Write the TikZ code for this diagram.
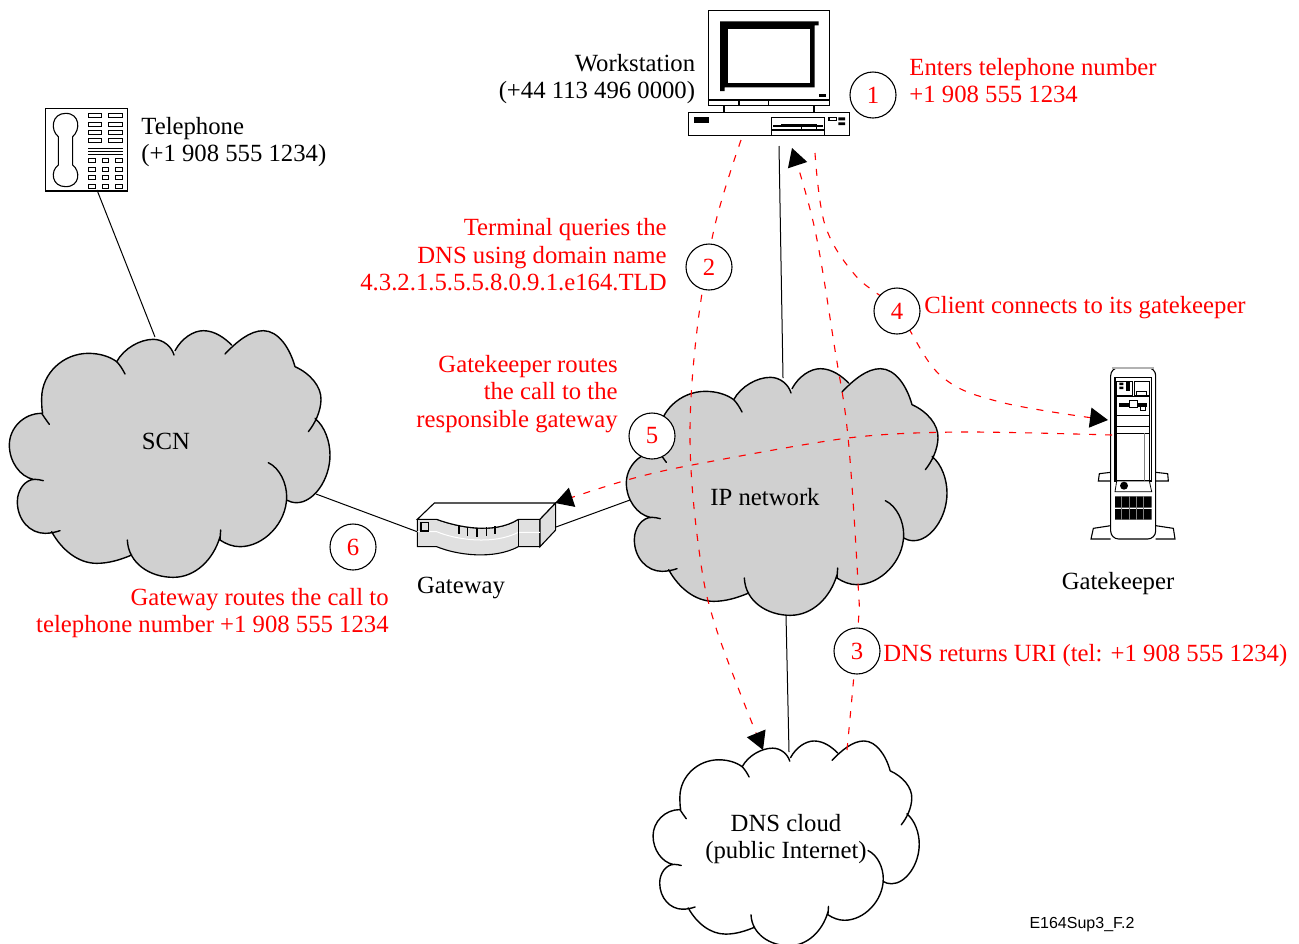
\documentclass[tikz,border=0pt]{standalone}
\usepackage{fontspec}
\setmainfont{Liberation Serif}
\newfontfamily\arialfont{Liberation Sans}
\usetikzlibrary{arrows.meta}
\definecolor{cloudgray}{RGB}{208,208,208}
\definecolor{boxgray}{RGB}{224,224,224}
\tikzset{
  txt/.style={inner sep=0pt,font=\fontsize{12.36}{13.75}\selectfont},
  redtxt/.style={txt,text=red},
  stepcircle/.style={circle,draw=black,fill=white,line width=0.55pt,minimum size=23pt,inner sep=0pt,text=red,font=\fontsize{12.36}{13.75}\selectfont},
  link/.style={line width=0.5pt,black},
  reddash/.style={red,line width=0.55pt,dash pattern=on 3.5pt off 4.5pt},
  redtip/.style={-{Triangle[length=9pt,width=10pt,black]}},
  thing/.style={line width=0.55pt,black},
  cloudline/.style={line width=0.7pt,black,line cap=round},
}
\def\cloudshape#1{%
 (350,125) .. controls (372,85) and (420,58) .. (460,58) .. controls (490,58) and (515,80) .. (522,105)
 #1 (525,92) .. controls (545,55) and (580,32) .. (610,32) .. controls (645,32) and (675,55) .. (695,75)
 #1 (675,102) .. controls (710,65) and (750,32) .. (790,32) .. controls (835,32) and (870,85) .. (885,140)
 #1 (885,140) .. controls (930,160) and (965,200) .. (963,240) .. controls (962,275) and (945,310) .. (925,335)
 #1 (945,295) .. controls (975,320) and (990,365) .. (990,405) .. controls (990,480) and (940,548) .. (890,548) .. controls (878,548) and (868,545) .. (860,540)
 #1 (805,428) .. controls (840,445) and (860,490) .. (860,530) .. controls (860,610) and (790,680) .. (720,680) .. controls (698,680) and (678,672) .. (660,660) -- (662,630)
 #1 (660,650) .. controls (640,720) and (585,772) .. (520,772) .. controls (450,772) and (385,730) .. (382,660)
 #1 (395,705) .. controls (360,720) and (325,730) .. (290,730) .. controls (235,730) and (185,690) .. (155,635)
 #1 (180,632) .. controls (165,637) and (150,640) .. (135,640) .. controls (90,640) and (52,600) .. (52,545) .. controls (52,510) and (75,478) .. (105,478) .. controls (113,478) and (122,480) .. (130,482)
 #1 (100,478) .. controls (60,470) and (28,425) .. (28,375) .. controls (28,325) and (70,280) .. (125,280) .. controls (135,295) and (142,305) .. (148,313)
 #1 (128,280) .. controls (125,270) and (125,245) .. (125,235) .. controls (125,160) and (190,100) .. (265,100) .. controls (300,100) and (330,110) .. (350,125) .. controls (360,135) and (368,148) .. (375,162)}
\def\cloudat#1#2#3#4{%
 \begin{scope}[shift={(#1,#2)},scale=#3]
  \fill[#4] \cloudshape{--} -- cycle;
  \draw[cloudline] \cloudshape{};
 \end{scope}}
\begin{document}
\begin{tikzpicture}[x=0.5pt,y=-0.5pt]
\useasboundingbox (0,0) rectangle (1299,943);
% anchors of connectors
\coordinate (phoneport) at (97,190);
\coordinate (scntop) at (155,337);
\coordinate (wsport) at (779,146);
\coordinate (iptop) at (783,378);
\coordinate (ipbottom) at (786,615);
\coordinate (dnstop) at (789,752);
\coordinate (scnright) at (316,494);
\coordinate (gwleft) at (418,532);
\coordinate (gwright) at (556,527);
\coordinate (ipleft) at (630,500);
\coordinate (wsa) at (741,140);
\coordinate (wsb) at (792,148);
\coordinate (wsc) at (815,153);
\coordinate (dnsa) at (763,750);
\coordinate (dnsb) at (847,750);
\coordinate (gka) at (1108,420);
\coordinate (gkb) at (1112,435);
\coordinate (gwtip) at (555,503);
% black links behind the clouds
\draw[link] (phoneport) -- (scntop);
\draw[link] (wsport) -- (iptop);
\draw[link] (ipbottom) -- (dnstop);
\draw[link] (scnright) -- (gwleft);
\draw[link] (gwright) -- (ipleft);
% clouds
\cloudat{0}{320}{0.33333}{cloudgray}
\cloudat{617}{358}{0.33333}{cloudgray}
\cloudat{645.3}{732.1}{0.2767}{white}
% workstation
\begin{scope}[shift={(670,0)},scale=0.33333,thing]
 \draw (115,32) rectangle (478,316);
 \draw (115,300) -- (478,300) (207,300) -- (207,316) (296,300) -- (296,316);
 \fill (150,64) -- (446,64) -- (446,76) -- (434,76) -- (434,262) -- (164,262) -- (164,273) -- (150,273) -- cycle;
 \fill[white] (175,87) rectangle (420,249);
 \fill (447,282) rectangle (467,290);
 \draw (162,316) -- (162,338) (432,316) -- (432,338);
 \draw (55,338) rectangle (538,407);
 \fill (72,352) rectangle (118,369);
 \draw (304,352) rectangle (463,407);
 \draw (310,378) -- (458,378) (304,390) -- (463,390);
 \fill (333,372) rectangle (440,380);
 \draw[fill=white] (395,378) rectangle (440,388);
 \draw (477,352) rectangle (500,362);
 \fill (505,352) rectangle (525,361) (505,367) rectangle (525,375);
\end{scope}
% telephone
\begin{scope}[shift={(30,95)},scale=0.33333,thing]
 \draw (46,41) rectangle (292,288);
 \draw (85,125) .. controls (60,105) and (65,55) .. (107,55) .. controls (150,55) and (152,105) .. (128,125) -- (128,210) .. controls (152,228) and (150,275) .. (107,275) .. controls (65,275) and (60,228) .. (85,210) -- cycle;
 \begin{scope}[line width=0.4pt]
 \foreach \y in {55,82,107,131} {
  \draw (175,\y) rectangle (215,\y+12);
  \draw (235,\y) rectangle (277,\y+12);
 }
 \draw (175,160) -- (278,160) (175,168) -- (278,168) (175,177) -- (278,177);
 \foreach \y in {190,218,242,267} {
  \draw (175,\y) rectangle (195,\y+12);
  \draw (218,\y) rectangle (235,\y+12);
  \draw (257,\y) rectangle (277,\y+12);
 }
 \end{scope}
\end{scope}
% gateway
\begin{scope}[shift={(400,480)},scale=0.33333,thing]
 \draw[fill=boxgray] (52,118) -- (110,118) .. controls (170,140) and (280,165) .. (355,118) -- (420,118) -- (420,200) -- (355,200) .. controls (280,240) and (170,225) .. (110,200) -- (52,200) -- cycle;
 \draw[fill=white] (52,118) -- (103,69) -- (467,69) -- (420,118) -- (355,118) .. controls (280,165) and (170,140) .. (110,118) -- cycle;
 \draw[fill=boxgray] (420,118) -- (467,69) -- (467,150) -- (420,200) -- cycle;
 \draw[white,line width=0.5pt] (52,155) -- (110,155) .. controls (170,180) and (280,195) .. (355,157) -- (420,157);
 \draw (355,118) -- (355,200);
 \draw (63,128) rectangle (85,153);
 \draw (177,138) -- (177,163) (203,142) -- (203,168) (231,144) -- (231,170) (260,142) -- (260,168) (285,138) -- (285,163);
\end{scope}
% gatekeeper
\begin{scope}[shift={(1080,355)},scale=0.33333,thing]
 \draw[fill=white] (92,352) -- (58,356) -- (55,378) -- (92,378);
 \draw[fill=white] (227,352) -- (263,356) -- (265,378) -- (227,378);
 \draw[fill=white] (92,512) -- (40,520) -- (33,552) -- (92,552);
 \draw[fill=white] (227,512) -- (280,520) -- (285,552) -- (227,552);
 \draw[rounded corners=4pt,fill=white] (92,552) -- (92,38) -- (227,38) -- (227,552) -- cycle;
 \fill[gray!60] (97,36) rectangle (222,43);
 \draw (105,68) rectangle (215,378);
 \begin{scope}[line width=0.4pt]
 \draw (110,80) rectangle (158,120);
 \fill (137,78) rectangle (150,108);
 \fill (118,83) rectangle (130,90) (118,95) rectangle (130,102);
 \draw (163,80) rectangle (208,120);
 \draw (168,108) rectangle (200,120);
 \draw (110,125) rectangle (208,180);
 \fill (118,143) rectangle (200,155);
 \draw[fill=white] (147,135) rectangle (172,157);
 \draw[fill=white] (180,155) rectangle (195,167);
 \draw (110,180) rectangle (208,235);
 \draw (110,215) -- (208,215);
 \draw (110,235) rectangle (208,378);
 \draw[gray] (192,235) -- (192,378);
 \draw[fill=white] (110,378) -- (208,378) -- (215,410) -- (105,410) -- cycle;
 \end{scope}
 \fill (132,392) circle (12);
 \fill (105,424) rectangle (215,458) (105,462) rectangle (215,494);
 \foreach \x in {125,147,169,191} \draw[gray,line width=0.2pt] (\x,424) -- (\x,494);
\end{scope}
% signalling paths
\draw[reddash,redtip] plot[smooth,tension=0.6] coordinates {(wsa)(715,225)(697,330)(690,440)(699,550)(716,628)(dnsa)};
\draw[reddash,redtip] plot[smooth,tension=0.6] coordinates {(dnsb)(858,627)(858,583)(848,437)(835,350)(815,230)(wsb)};
\draw[reddash,redtip] plot[smooth,tension=0.6] coordinates {(wsc)(825,225)(855,275)(897,311)(940,375)(1000,402)(gka)};
\draw[reddash,redtip] plot[smooth,tension=0.5] coordinates {(gkb)(960,432)(848,438)(692,465)(627,480)(gwtip)};
% step circles
\node[stepcircle] (c1) at (873,95) {1};
\node[stepcircle] (c2) at (709,267) {2};
\node[stepcircle] (c3) at (857,651) {3};
\node[stepcircle] (c4) at (897,311) {4};
\node[stepcircle] (c5) at (652,436) {5};
\node[stepcircle] (c6) at (353,547) {6};
% labels
\node[txt,align=right,anchor=east] (lws) at (695.5,79) {Workstation\\(+44 113 496 0000)};
\node[txt,align=left,anchor=west] (ltel) at (141,142) {Telephone\\(+1 908 555 1234)};
\node[txt] (lscn) at (166,441) {SCN};
\node[txt] (lip) at (765,497) {IP network};
\node[txt,align=center] (ldns) at (786,839) {DNS cloud\\(public Internet)};
\node[txt] (lgw) at (461,588) {Gateway};
\node[txt] (lgk) at (1118,584) {Gatekeeper};
\node[redtxt,align=left,anchor=west] (t1) at (909,80.5) {Enters telephone number\\+1 908 555 1234};
\node[redtxt,align=right,anchor=east] (t2) at (667,255) {Terminal queries the\\DNS using domain name\\4.3.2.1.5.5.5.8.0.9.1.e164.TLD};
\node[redtxt,anchor=west] (t3) at (883,656) {DNS returns URI (tel: +1 908 555 1234)};
\node[redtxt,anchor=west] (t4) at (924,308) {Client connects to its gatekeeper};
\node[redtxt,align=right,anchor=east] (t5) at (618,394) {Gatekeeper routes\\the call to the\\responsible gateway};
\node[redtxt,align=right,anchor=east] (t6) at (389,613) {Gateway routes the call to\\telephone number +1 908 555 1234};
\node[inner sep=0pt,font=\arialfont\fontsize{8}{9}\selectfont] (figid) at (1082,925) {E164Sup3\_F.2};
\end{tikzpicture}
\end{document}
